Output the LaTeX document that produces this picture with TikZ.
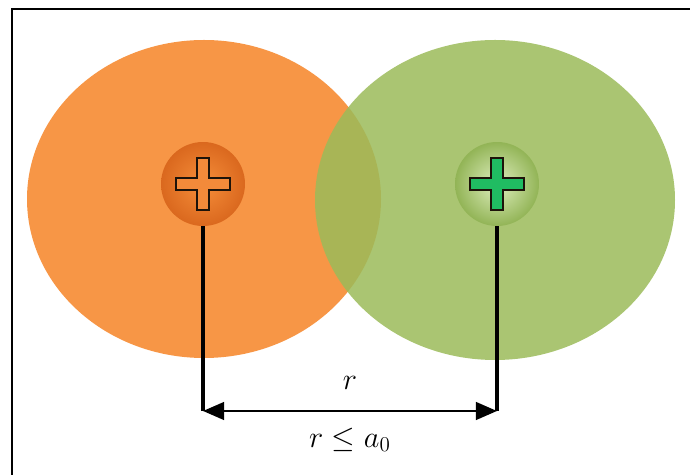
\documentclass[tikz,border=0pt]{standalone}
\usetikzlibrary{arrows.meta}
\definecolor{cloudorange}{HTML}{F79646}
\definecolor{cloudgreen}{HTML}{9BBB59}
\definecolor{crossorange}{RGB}{243,138,58}
\definecolor{crossgreen}{RGB}{32,188,98}
\begin{document}
\begin{tikzpicture}[x=0.02cm,y=-0.02cm,
  nucleus/.style={circle,minimum size=1.68cm,inner sep=0pt},
  pluscross/.style={draw=black!85!brown,line width=1pt,line join=miter},
  stem/.style={line width=2.2pt},
  label/.style={font=\fontsize{18.5pt}{22pt}\selectfont}]
  \useasboundingbox (0,0) rectangle (690,475);
  % frame
  \draw[line width=1.2pt] (12,475) -- (12,9) -- (690,9);
  % electron clouds
  \fill[cloudorange] (204,199) ellipse [x radius=177, y radius=159];
  \fill[cloudgreen,opacity=0.85] (495,200) ellipse [x radius=180, y radius=160];
  % left nucleus
  \node[nucleus,inner color={rgb,255:red,246;green,142;blue,58},
    outer color={rgb,255:red,218;green,104;blue,30}] (nucA) at (203,184) {};
  \begin{scope}[shift={(nucA.center)}]
    \draw[pluscross,fill=crossorange] (-6,-26) -- (6,-26) -- (6,-6) -- (27,-6) -- (27,6) -- (6,6)
      -- (6,26) -- (-6,26) -- (-6,6) -- (-27,6) -- (-27,-6) -- (-6,-6) -- cycle;
  \end{scope}
  % right nucleus
  \node[nucleus,inner color={rgb,255:red,222;green,238;blue,190},
    outer color={rgb,255:red,146;green,180;blue,86}] (nucB) at (497,184) {};
  \begin{scope}[shift={(nucB.center)}]
    \draw[pluscross,fill=crossgreen] (-6,-26) -- (6,-26) -- (6,-6) -- (27,-6) -- (27,6) -- (6,6)
      -- (6,26) -- (-6,26) -- (-6,6) -- (-27,6) -- (-27,-6) -- (-6,-6) -- cycle;
  \end{scope}
  % distance
  \coordinate (baseA) at (203,411);
  \coordinate (baseB) at (497,411);
  \draw[stem] (nucA.south) -- (baseA);
  \draw[stem] (nucB.south) -- (baseB);
  \draw[line width=1.5pt,{Triangle[length=12pt,width=10pt]}-{Triangle[length=12pt,width=10pt]}]
    (baseA) -- (baseB);
  \node[label] (dist) at (350,383) {$r$};
  \node[label] (bound) at (350,440) {$r \le a_0$};
\end{tikzpicture}
\end{document}
